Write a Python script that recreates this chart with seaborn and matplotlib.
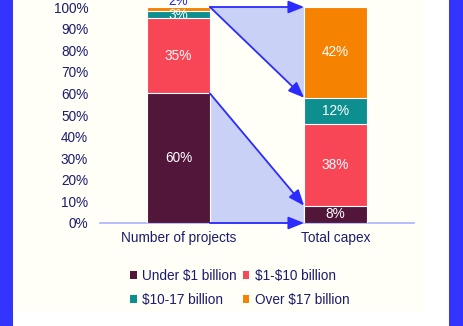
import matplotlib
matplotlib.use("Agg")
import matplotlib.pyplot as plt
import seaborn as sns
import numpy as np
from matplotlib.patches import Rectangle, Polygon

categories = ["Number of projects", "Total capex"]
series_names = ["Under $1 billion", "$1-$10 billion", "$10-17 billion", "Over $17 billion"]
under_1bn = [60, 8]
bn_1_10 = [35, 38]
bn_10_17 = [3, 12]
over_17bn = [2, 42]
yticks = [0, 10, 20, 30, 40, 50, 60, 70, 80, 90, 100]

colors = ["#52163a", "#f94657", "#0d8f8f", "#f58200"]
navy = "#1c1c6e"
arrow_blue = "#2b2bff"
shade = "#c9d1f7"

sns.set_theme(style="white")
plt.rcParams["font.family"] = ["Liberation Sans", "DejaVu Sans"]
plt.rcParams["text.parse_math"] = False

FS = 9.8

fig = plt.figure(figsize=(4.63, 3.26), dpi=100, facecolor="white")
W, H = 463, 326
# background panels
fig.patches.append(Rectangle((13 / W, 14 / H), (424 - 13) / W, 1 - 14 / H, transform=fig.transFigure,
                             facecolor="#fffff8", edgecolor="none", zorder=-10))
fig.patches.append(Rectangle((0, 0), 13 / W, 1, transform=fig.transFigure,
                             facecolor="#3434ff", edgecolor="none", zorder=-9))
fig.patches.append(Rectangle((449 / W, 0), 14 / W, 1, transform=fig.transFigure,
                             facecolor="#3434ff", edgecolor="none", zorder=-9))

ax = fig.add_axes([100 / W, 1 - 223 / H, (414 - 100) / W, (223 - 7) / H])
ax.set_facecolor("none")

layers = [under_1bn, bn_1_10, bn_10_17, over_17bn]
cum = np.cumsum(np.array(layers), axis=0)
for i in range(len(layers) - 1, -1, -1):
    sns.barplot(x=categories, y=cum[i], color=colors[i], width=0.4, edgecolor="white",
                linewidth=0.8, saturation=1, ax=ax, zorder=3)

hw = 0.2
x0r, x1l = 0 + hw, 1 - hw
# shaded regions
ax.add_patch(Polygon([(x0r, 100), (x1l, 100), (x1l, cum[2][1])], closed=True,
                     facecolor=shade, edgecolor="none", zorder=1))
ax.add_patch(Polygon([(x0r, cum[0][0]), (x1l, cum[0][1]), (x1l, 0), (x0r, 0)], closed=True,
                     facecolor=shade, edgecolor="none", zorder=1))
# arrows
arrows = [((x0r, 100), (x1l, 100)), ((x0r, 100), (x1l, cum[2][1])),
          ((x0r, cum[0][0]), (x1l, cum[0][1])), ((x0r, 0), (x1l, 0))]
for (s, e) in arrows:
    ax.annotate("", xy=e, xytext=s,
                arrowprops=dict(arrowstyle="-|>,head_length=0.8,head_width=0.32", color=arrow_blue,
                                lw=1.3, shrinkA=0, shrinkB=0), zorder=4, annotation_clip=False)

# labels
for j in range(2):
    bottom = 0
    for i, layer in enumerate(layers):
        v = layer[j]
        if j == 0 and i == 3:
            ax.text(j, 102.6, f"{v}%", ha="center", va="center", color=arrow_blue,
                    fontsize=FS, clip_on=False, zorder=5)
        else:
            ax.text(j, bottom + v / 2, f"{v}%", ha="center", va="center", color="white",
                    fontsize=FS, zorder=5)
        bottom += v

ax.set_xlim(-0.5, 1.5)
ax.set_ylim(0, 100)
ax.set_yticks(yticks)
ax.set_yticklabels([f"{t}%" for t in yticks])
ax.tick_params(axis="y", length=0, pad=8.5, labelsize=FS, labelcolor=navy)
ax.tick_params(axis="x", length=0, pad=6, labelsize=FS, labelcolor=navy)
for s in ["top", "right", "left"]:
    ax.spines[s].set_visible(False)
ax.spines["bottom"].set_color("#aab2ff")
ax.spines["bottom"].set_linewidth(1.2)
ax.set_xlabel("")
ax.set_ylabel("")

handles = [Rectangle((0, 0), 1, 1, facecolor=c, edgecolor="none") for c in colors]
order = [0, 2, 1, 3]  # row-major layout in a two-column legend
leg = fig.legend([handles[k] for k in order], [series_names[k] for k in order], ncol=2,
                 loc="center", bbox_to_anchor=(0.518, 1 - 288 / H),
                 frameon=False, fontsize=FS, handlelength=0.5, handleheight=0.5,
                 handletextpad=0.4, columnspacing=0.4, labelspacing=0.75)
for t in leg.get_texts():
    t.set_color(navy)

fig.savefig("out.png", dpi=100, facecolor="white")
